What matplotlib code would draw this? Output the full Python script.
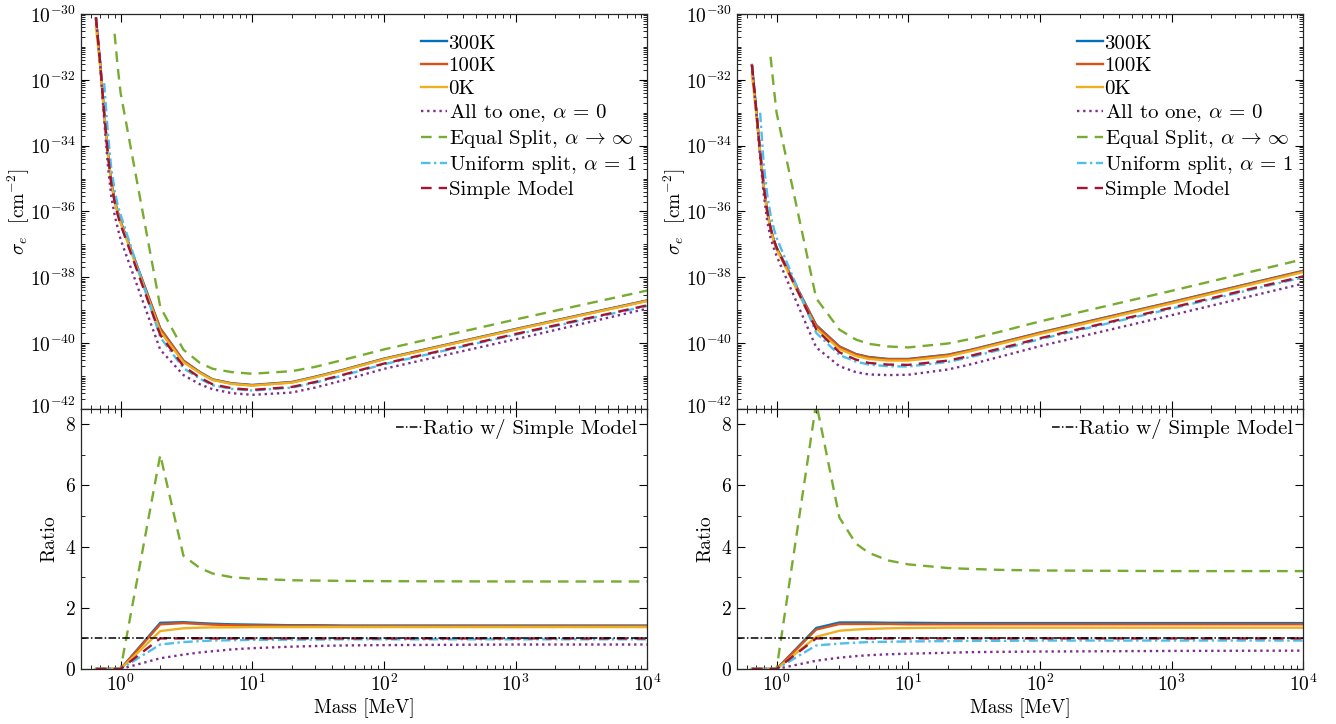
import numpy as np
import matplotlib.pyplot as plt
from matplotlib.ticker import LogLocator, NullFormatter, MultipleLocator
from matplotlib.transforms import ScaledTranslation

plt.rcParams['font.family'] = 'serif'
plt.rcParams['font.serif'] = ['cmr10']
plt.rcParams['mathtext.fontset'] = 'cm'
plt.rcParams['axes.formatter.use_mathtext'] = True

nan = np.nan
mass = [0.65, 0.7, 0.75, 0.8, 0.85, 0.9, 0.95, 1, 2, 3, 4, 5, 7, 10, 20, 30, 50, 100, 1000, 10000]

# log10 of sigma_e, left panel
k300_L = [-30.15, -31.5, -33.0, -34.2, -35.1, -35.65, -36.0, -36.3, -39.55, -40.53, -40.88, -41.1, -41.22, -41.27, -41.18, -41.02, -40.8, -40.47, -39.57, -38.7]
k100_L = [-30.15, -31.52, -33.02, -34.22, -35.12, -35.67, -36.02, -36.32, -39.56, -40.54, -40.89, -41.11, -41.23, -41.28, -41.19, -41.03, -40.81, -40.48, -39.58, -38.71]
k0_L = [-30.4, -31.6, -33.05, -34.25, -35.15, -35.7, -36.05, -36.35, -39.65, -40.58, -40.91, -41.12, -41.24, -41.29, -41.2, -41.04, -40.82, -40.49, -39.59, -38.72]
one_L = [-30.1, -31.55, -33.2, -34.6, -35.55, -36.1, -36.5, -36.85, -40.2, -40.97, -41.25, -41.4, -41.52, -41.57, -41.5, -41.35, -41.12, -40.78, -39.88, -38.95]
equal_L = [nan, nan, nan, nan, nan, -30.6, -31.6, -32.4, -38.9, -40.2, -40.6, -40.78, -40.88, -40.93, -40.85, -40.72, -40.5, -40.19, -39.28, -38.4]
uniform_L = [nan, nan, -32.1, -33.6, -34.7, -35.35, -35.8, -36.1, -39.82, -40.76, -41.08, -41.28, -41.39, -41.44, -41.35, -41.2, -40.97, -40.64, -39.74, -38.87]
simple_L = [-30.1, -31.5, -33.0, -34.25, -35.15, -35.7, -36.1, -36.4, -39.75, -40.7, -41.05, -41.25, -41.37, -41.42, -41.33, -41.18, -40.95, -40.62, -39.72, -38.85]

# log10 of sigma_e, right panel
k300_R = [-31.55, -32.9, -34.2, -35.25, -36.0, -36.5, -36.85, -37.1, -39.45, -40.1, -40.33, -40.42, -40.48, -40.48, -40.35, -40.2, -39.98, -39.68, -38.75, -37.8]
k100_R = [-31.56, -32.91, -34.21, -35.26, -36.01, -36.51, -36.86, -37.11, -39.47, -40.11, -40.34, -40.43, -40.49, -40.49, -40.36, -40.21, -39.99, -39.69, -38.76, -37.81]
k0_R = [-31.85, -33.0, -34.25, -35.3, -36.05, -36.55, -36.9, -37.15, -39.56, -40.18, -40.39, -40.48, -40.53, -40.53, -40.4, -40.24, -40.02, -39.72, -38.79, -37.84]
one_R = [-31.55, -32.95, -34.35, -35.5, -36.3, -36.8, -37.1, -37.35, -40.13, -40.7, -40.88, -40.95, -40.97, -40.96, -40.8, -40.64, -40.41, -40.09, -39.15, -38.19]
equal_R = [nan, nan, nan, nan, nan, -31.3, -32.2, -33.0, -38.64, -39.59, -39.89, -40.02, -40.1, -40.13, -40.01, -39.87, -39.65, -39.34, -38.41, -37.45]
uniform_R = [nan, nan, -33.0, -34.6, -35.5, -36.1, -36.5, -36.8, -39.69, -40.36, -40.56, -40.65, -40.7, -40.71, -40.57, -40.42, -40.2, -39.88, -38.95, -38.0]
simple_R = [-31.55, -32.9, -34.2, -35.25, -36.0, -36.5, -36.85, -37.1, -39.58, -40.28, -40.5, -40.6, -40.65, -40.66, -40.53, -40.38, -40.16, -39.85, -38.92, -37.97]

# ratio to simple model
r300_L = [0, 0, 0, 0, 0, 0, 0, 0, 1.51, 1.53, 1.5, 1.48, 1.46, 1.45, 1.43, 1.43, 1.42, 1.42, 1.42, 1.42]
r100_L = [0, 0, 0, 0, 0, 0, 0, 0, 1.46, 1.5, 1.47, 1.45, 1.43, 1.42, 1.41, 1.41, 1.4, 1.4, 1.4, 1.4]
r0_L = [0, 0, 0, 0, 0, 0, 0, 0, 1.24, 1.33, 1.35, 1.36, 1.36, 1.37, 1.37, 1.37, 1.37, 1.37, 1.37, 1.37]
rone_L = [0, 0, 0, 0, 0, 0, 0, 0, 0.35, 0.47, 0.54, 0.58, 0.64, 0.68, 0.73, 0.75, 0.77, 0.78, 0.8, 0.8]
requal_L = [0, 0, 0, 0, 0, 0, 0, 0, 7.0, 3.7, 3.3, 3.12, 3.0, 2.95, 2.9, 2.89, 2.88, 2.87, 2.86, 2.86]
runiform_L = [0, 0, 0, 0, 0, 0, 0, 0, 0.8, 0.88, 0.91, 0.93, 0.94, 0.95, 0.96, 0.96, 0.97, 0.97, 0.97, 0.97]
rsimple_L = [0, 0, 0, 0, 0, 0, 0, 0, 1, 1, 1, 1, 1, 1, 1, 1, 1, 1, 1, 1]

r300_R = [0, 0, 0, 0, 0, 0, 0, 0, 1.34, 1.52, 1.52, 1.52, 1.51, 1.51, 1.5, 1.5, 1.5, 1.5, 1.5, 1.5]
r100_R = [0, 0, 0, 0, 0, 0, 0, 0, 1.29, 1.47, 1.47, 1.47, 1.47, 1.46, 1.46, 1.46, 1.46, 1.46, 1.46, 1.46]
r0_R = [0, 0, 0, 0, 0, 0, 0, 0, 1.05, 1.25, 1.29, 1.31, 1.33, 1.34, 1.35, 1.35, 1.35, 1.35, 1.35, 1.35]
rone_R = [0, 0, 0, 0, 0, 0, 0, 0, 0.27, 0.37, 0.42, 0.45, 0.48, 0.5, 0.53, 0.55, 0.56, 0.57, 0.59, 0.6]
requal_R = [0, 0, 0, 0, 0, 0, 0, 0, 8.7, 4.95, 4.1, 3.8, 3.55, 3.42, 3.3, 3.27, 3.24, 3.22, 3.2, 3.2]
runiform_R = [0, 0, 0, 0, 0, 0, 0, 0, 0.77, 0.83, 0.86, 0.88, 0.89, 0.9, 0.91, 0.92, 0.92, 0.93, 0.93, 0.93]
rsimple_R = [0, 0, 0, 0, 0, 0, 0, 0, 1, 1, 1, 1, 1, 1, 1, 1, 1, 1, 1, 1]

labels = ['300K', '100K', '0K', r'All to one, $\alpha\,=\,0$', r'Equal Split, $\alpha\,\rightarrow\,\infty$',
          r'Uniform split, $\alpha\,=\,1$', 'Simple Model']
colors = ['#0072BD', '#D95319', '#EDB120', '#7E2F8E', '#77AC30', '#4DBEEE', '#A2142F']
styles = [dict(ls='-'), dict(ls='-'), dict(ls='-'), dict(ls=(0, (1, 1.6))),
          dict(ls=(0, (4.5, 3))), dict(ls=(0, (4, 1.5, 1, 1.5))), dict(ls=(0, (4.5, 3)))]

fig = plt.figure(figsize=(13.36, 7.24), dpi=100)


def style_axes(ax):
    ax.set_xscale('log')
    ax.set_xlim(0.5, 1e4)
    ax.xaxis.set_major_locator(LogLocator(base=10, numticks=20))
    ax.xaxis.set_minor_locator(LogLocator(base=10, subs=np.arange(2, 10), numticks=100))
    ax.xaxis.set_minor_formatter(NullFormatter())
    ax.tick_params(which='both', direction='in', top=True, right=True, labelsize=14)
    ax.tick_params(which='major', length=6, width=0.8)
    ax.tick_params(which='minor', length=3, width=0.6)
    for s in ax.spines.values():
        s.set_linewidth(0.9)
        s.set_color('#262626')


def draw_panel(x0, top_data, ratio_data):
    w = 0.4240
    ax = fig.add_axes([x0, 0.4351, w, 0.5456])
    axr = fig.add_axes([x0, 0.0760, w, 0.3591])
    for d, lab, c, st in zip(top_data, labels, colors, styles):
        ax.plot(mass, 10.0 ** np.array(d), color=c, lw=1.7, label=lab, **st)
    style_axes(ax)
    ax.set_yscale('log')
    ax.set_ylim(1e-42, 1e-30)
    ax.set_yticks([10.0 ** e for e in range(-42, -29, 2)])
    ax.yaxis.set_minor_locator(LogLocator(base=10, subs=np.arange(1, 10), numticks=100))
    ax.yaxis.set_minor_formatter(NullFormatter())
    ax.tick_params(labelbottom=False)
    ax.set_ylabel(r'$\sigma_e$  [cm$^{-2}$]', fontsize=14)
    ax.yaxis.set_label_coords(-0.087, 0.5)
    # lift the lowest label a little so it clears the ratio panel's "8"
    lab0 = ax.yaxis.get_major_ticks()[0].label1
    lab0.set_transform(lab0.get_transform() + ScaledTranslation(0, 3 / 72, fig.dpi_scale_trans))
    ax.legend(loc='upper right', bbox_to_anchor=(0.988, 0.96), frameon=False, fontsize=15,
              handlelength=1.25, handletextpad=0.05, labelspacing=0.2, borderaxespad=0.0, borderpad=0.2)

    for d, c, st in zip(ratio_data, colors, styles):
        axr.plot(mass, d, color=c, lw=1.7, **st)
    axr.axhline(1, color='black', lw=1.1, ls=(0, (5, 1.5, 1, 1.5)), label='Ratio w/ Simple Model')
    style_axes(axr)
    axr.set_ylim(0, 8.5)
    axr.yaxis.set_major_locator(MultipleLocator(2))
    axr.yaxis.set_minor_locator(MultipleLocator(1))
    axr.set_ylabel('Ratio', fontsize=14)
    axr.yaxis.set_label_coords(-0.039, 0.5)
    axr.set_xlabel('Mass [MeV]', fontsize=14, labelpad=2)
    axr.legend(loc='upper right', frameon=False, fontsize=15, handlelength=1.25,
               handletextpad=0.05, borderaxespad=0.3, borderpad=0.2)


draw_panel(0.0606, [k300_L, k100_L, k0_L, one_L, equal_L, uniform_L, simple_L],
           [r300_L, r100_L, r0_L, rone_L, requal_L, runiform_L, rsimple_L])
draw_panel(0.5516, [k300_R, k100_R, k0_R, one_R, equal_R, uniform_R, simple_R],
           [r300_R, r100_R, r0_R, rone_R, requal_R, runiform_R, rsimple_R])

fig.savefig('out.png', dpi=100)
